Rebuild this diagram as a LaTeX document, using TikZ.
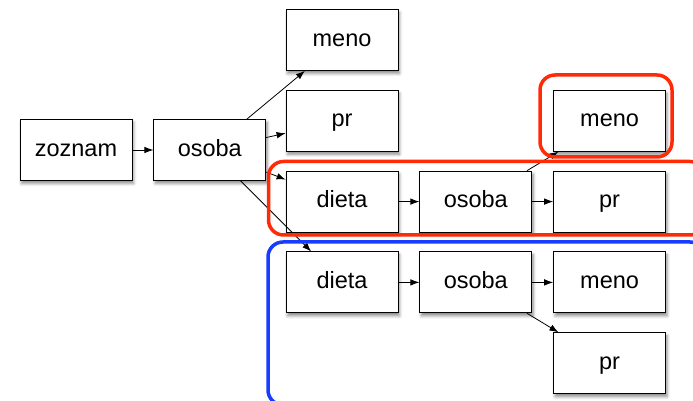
\documentclass[tikz,border=0pt]{standalone}
\usepackage{fontspec}
\setmainfont{Liberation Sans}
\usetikzlibrary{positioning,arrows.meta,shadows.blur}
\definecolor{framered}{RGB}{255,42,8}
\definecolor{frameblue}{RGB}{24,60,255}
\begin{document}
\begin{tikzpicture}[
	x=1pt, y=1pt,
	box/.style = {draw, rectangle, fill=white, line width=0.8pt,
		minimum width=112pt, minimum height=61pt, inner sep=0pt,
		text height=12.2pt, text depth=0pt,
		font=\fontsize{23.5}{28}\selectfont,
		blur shadow={shadow xshift=1.5pt, shadow yshift=-3pt,
			shadow blur radius=3pt, shadow opacity=45}},
	link/.style = {-{Latex[length=9pt,width=6.5pt]}, line width=0.8pt},
	frame/.style = {line width=3.5pt, rounded corners=15pt},
	node distance=19pt and 21pt,
	]
	\useasboundingbox (0,0) rectangle (693,401);
	\clip (0,0) rectangle (693,401);
	\node[box] (zoznam) at (76,251) {zoznam};
	\node[box, right=of zoznam] (osoba) {osoba};
	\node[box] (meno) at (342,361) {meno};
	\node[box, below=of meno] (pr) {pr};
	\node[box, below=of pr] (dieta) {dieta};
	\node[box, below=of dieta] (dieta2) {dieta};
	% red row
	\node[box, right=of dieta] (dosoba) {osoba};
	\node[box, right=of dosoba] (dpr) {pr};
	\node[box, above=of dpr] (dmeno) {meno};
	% blue row
	\node[box, right=of dieta2] (dosoba2) {osoba};
	\node[box, right=of dosoba2] (dmeno2) {meno};
	\node[box, below=of dmeno2] (dpr2) {pr};
	\draw[link] (zoznam) -- (osoba);
	\foreach \t in {meno,pr,dieta,dieta2}
		\draw[link] (osoba) -- (\t);
	\draw[link] (dieta) -- (dosoba);
	\draw[link] (dosoba) -- (dpr);
	\draw[link] (dosoba) -- (dmeno);
	\draw[link] (dieta2) -- (dosoba2);
	\draw[link] (dosoba2) -- (dmeno2);
	\draw[link] (dosoba2) -- (dpr2);
	% frames
	\draw[frame, framered] (540,326) rectangle (672,244);
	\draw[frame, framered] (268.5,239.5) rectangle (705,166);
	\draw[frame, frameblue] (268,159) rectangle (705,-4);
\end{tikzpicture}
\end{document}
